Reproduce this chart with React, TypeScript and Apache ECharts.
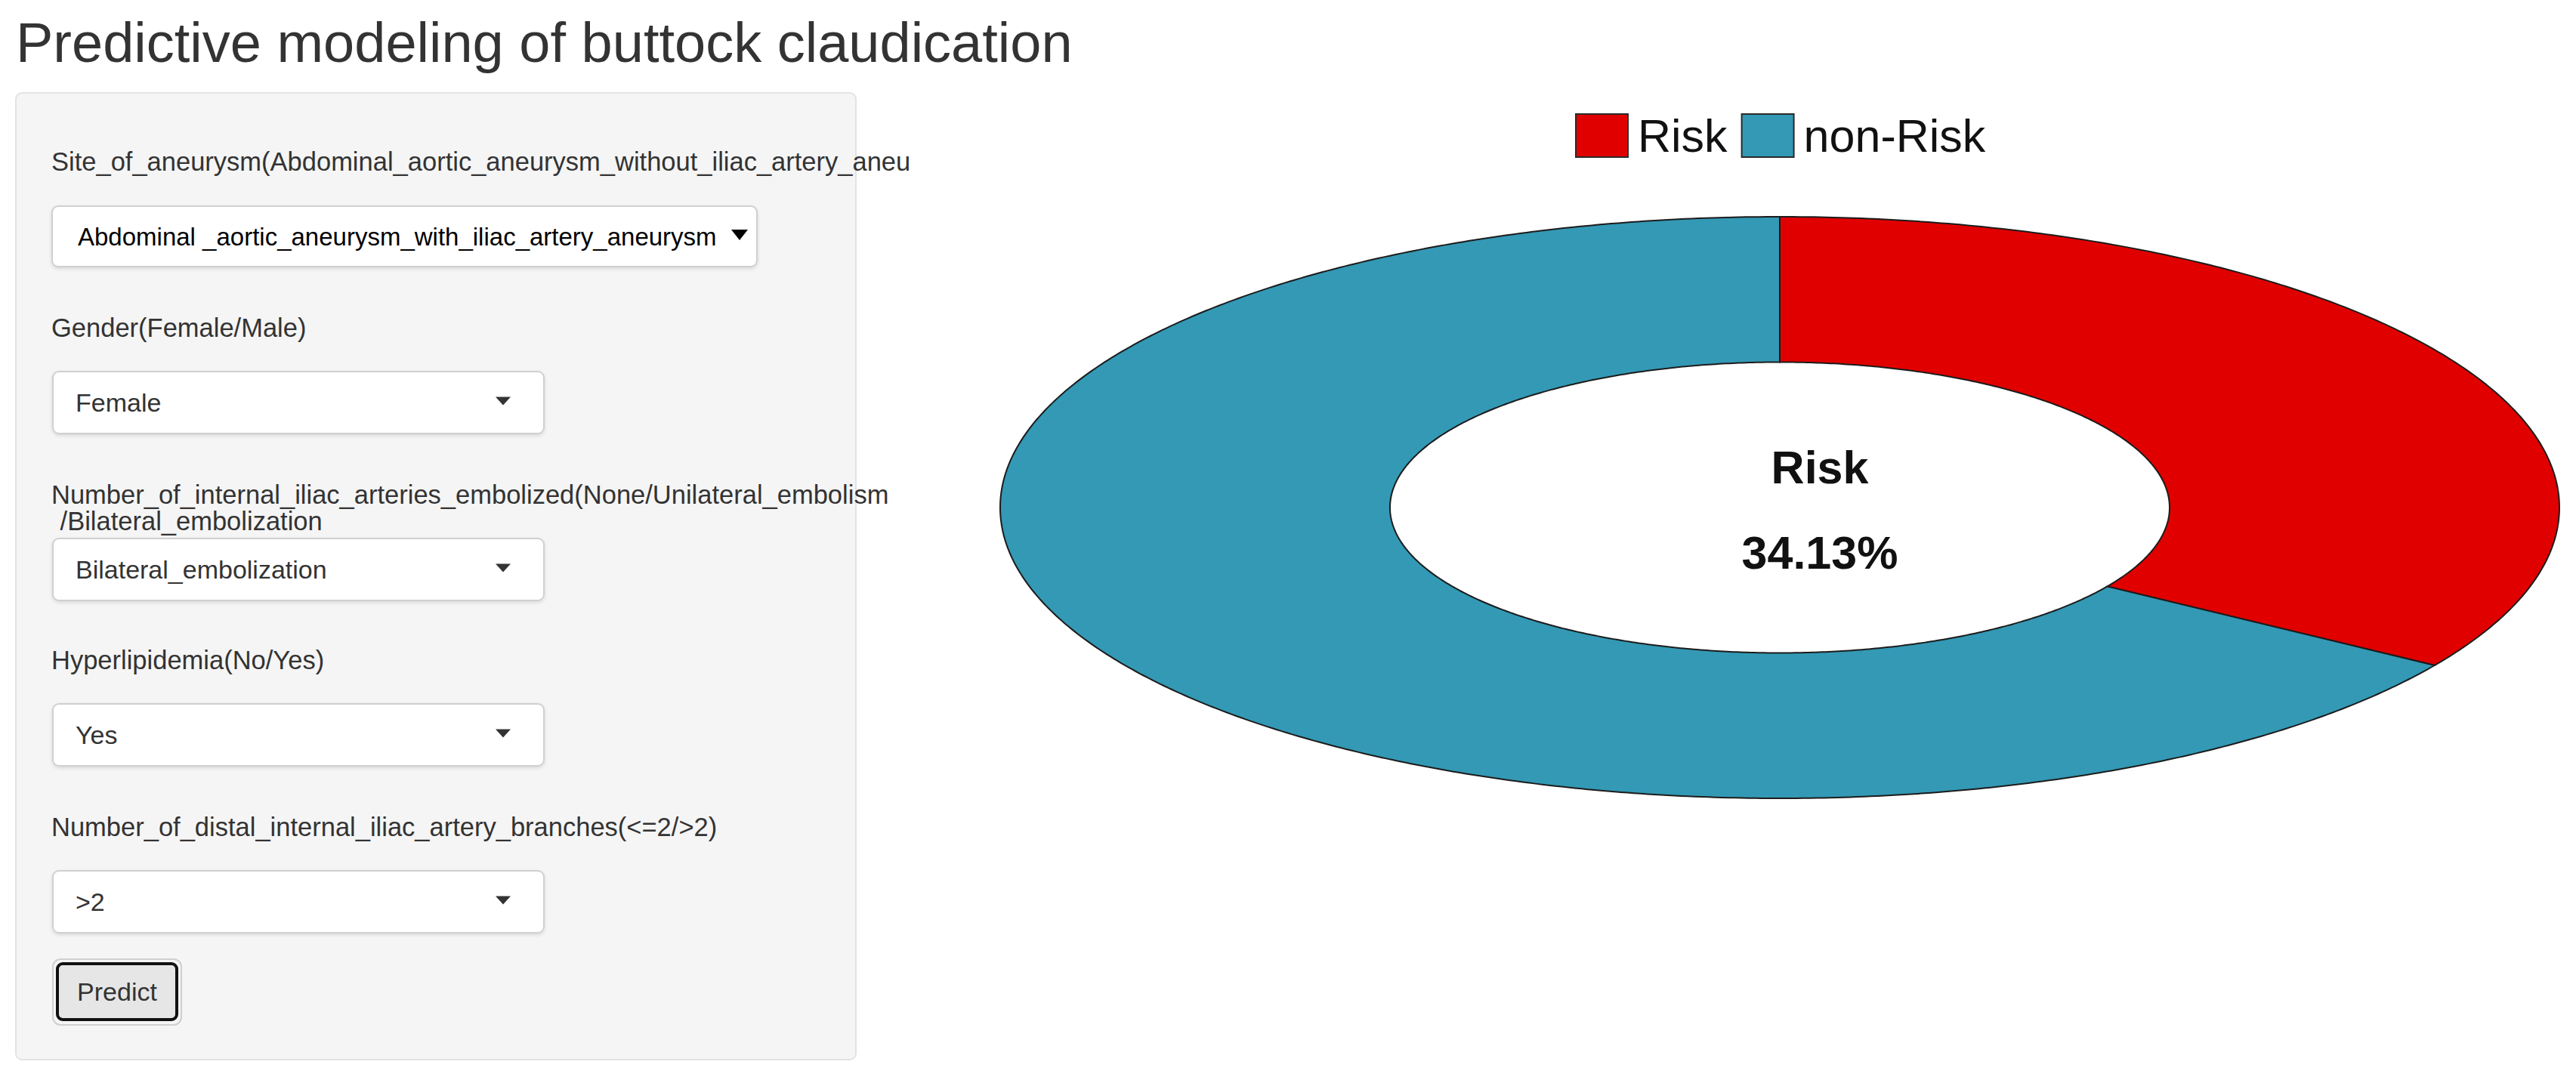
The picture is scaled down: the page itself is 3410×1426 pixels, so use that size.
import { useEffect, useRef } from 'react';
import * as echarts from 'echarts';

// prediction result
const categories = ['Risk', 'non-Risk'];
const values = [34.13, 65.87];
const sliceColors = ['#e10000', '#3399b5'];
const centerName = 'Risk';

// sidebar form
const pageTitle = 'Predictive modeling of buttock claudication';
const fieldLabels = [
  ['Site_of_aneurysm(Abdominal_aortic_aneurysm_without_iliac_artery_aneurysm/Abdominal _aortic_aneurysm_with_iliac_artery_aneurysm)'],
  ['Gender(Female/Male)'],
  ['Number_of_internal_iliac_arteries_embolized(None/Unilateral_embolism', ' /Bilateral_embolization'],
  ['Hyperlipidemia(No/Yes)'],
  ['Number_of_distal_internal_iliac_artery_branches(<=2/>2)'],
];
const fieldValues = [
  'Abdominal _aortic_aneurysm_with_iliac_artery_aneurysm',
  'Female',
  'Bilateral_embolization',
  'Yes',
  '>2',
];
const buttonText = 'Predict';

const FONT = '"Liberation Sans", Arial, Helvetica, sans-serif';

// donut geometry (ellipse)
const CX = 2356;
const CY = 672;
const RX = 1032;
const RY = 385;
const INNER = 0.5;

const LABEL_Y = [214, 434, 655, 874, 1095];
const SELECT_Y = [273, 492, 713, 932, 1153];

function buildForm() {
  const els: any[] = [];
  els.push({
    type: 'text',
    x: 21,
    y: 56,
    style: { text: pageTitle, font: `74px ${FONT}`, fill: '#333', verticalAlign: 'middle' },
  });
  els.push({
    type: 'rect',
    shape: { x: 21, y: 123, width: 1112, height: 1280, r: 8 },
    style: { fill: '#f5f5f5', stroke: '#e3e3e3', lineWidth: 2 },
  });

  fieldLabels.forEach((lines, i) => {
    lines.forEach((line, j) => {
      els.push({
        type: 'text',
        x: j === 0 ? 68 : 70,
        y: LABEL_Y[i] + j * 35,
        style: {
          text: line,
          font: `34.5px ${FONT}`,
          fill: '#333',
          verticalAlign: 'middle',
          width: 1140,
          overflow: 'truncate',
          ellipsis: '',
        },
      });
    });

    const top = SELECT_Y[i];
    const first = i === 0;
    const w = first ? 933 : 650;
    const h = first ? 80 : 82;
    const x = first ? 69 : 70;
    els.push({
      type: 'rect',
      shape: { x, y: top, width: w, height: h, r: 8 },
      style: {
        fill: '#fff',
        stroke: '#d0d0d0',
        lineWidth: 2,
        shadowBlur: 4,
        shadowOffsetY: 2,
        shadowColor: 'rgba(0,0,0,0.12)',
      },
    });
    els.push({
      type: 'text',
      x: first ? 103 : 100,
      y: top + h / 2,
      style: {
        text: fieldValues[i],
        font: `${first ? 33 : 34}px ${FONT}`,
        fill: first ? '#000' : '#333',
        verticalAlign: 'middle',
      },
    });
    const tx = first ? 979 : 666;
    const tw = first ? 22 : 20;
    const th = first ? 14 : 11;
    const ty = top + h / 2 - 2;
    els.push({
      type: 'polygon',
      shape: {
        points: [
          [tx - tw / 2, ty - th / 2],
          [tx + tw / 2, ty - th / 2],
          [tx, ty + th / 2],
        ],
      },
      style: { fill: first ? '#000' : '#333' },
    });
  });

  els.push({
    type: 'rect',
    shape: { x: 70, y: 1270, width: 170, height: 87, r: 10 },
    style: { fill: 'none', stroke: '#cfcfcf', lineWidth: 2 },
  });
  els.push({
    type: 'rect',
    shape: { x: 76, y: 1276, width: 158, height: 74, r: 7 },
    style: { fill: '#e6e6e6', stroke: '#111', lineWidth: 4 },
  });
  els.push({
    type: 'text',
    x: 155,
    y: 1313,
    style: { text: buttonText, font: `34px ${FONT}`, fill: '#333', align: 'center', verticalAlign: 'middle' },
  });

  // centre label of the donut
  const riskIdx = categories.indexOf(centerName);
  const total = values.reduce((a, b) => a + b, 0);
  els.push({
    type: 'text',
    x: 2409,
    y: 619,
    style: { text: centerName, font: `bold 61px ${FONT}`, fill: '#111', align: 'center', verticalAlign: 'middle' },
  });
  els.push({
    type: 'text',
    x: 2409,
    y: 732,
    style: {
      text: `${((values[riskIdx] / total) * 100).toFixed(2)}%`,
      font: `bold 61px ${FONT}`,
      fill: '#111',
      align: 'center',
      verticalAlign: 'middle',
    },
  });
  return els;
}

function renderSlice(params: any, api: any) {
  const idx = params.seriesIndex;
  const total = values.reduce((a, b) => a + b, 0);
  const before = values.slice(0, idx).reduce((a, b) => a + b, 0);
  const start = (before / total) * Math.PI * 2;
  const end = start + (api.value(0) / total) * Math.PI * 2;
  const n = Math.max(12, Math.ceil(((end - start) / (Math.PI * 2)) * 720));
  const pts: number[][] = [];
  for (let i = 0; i <= n; i++) {
    const t = start + ((end - start) * i) / n;
    pts.push([CX + RX * Math.sin(t), CY - RY * Math.cos(t)]);
  }
  for (let i = n; i >= 0; i--) {
    const t = start + ((end - start) * i) / n;
    pts.push([CX + RX * INNER * Math.sin(t), CY - RY * INNER * Math.cos(t)]);
  }
  return {
    type: 'polygon',
    shape: { points: pts },
    style: { fill: api.visual('color'), stroke: '#1c1c1c', lineWidth: 2 },
  };
}

export default function App() {
  const chartRef = useRef<HTMLDivElement>(null);

  useEffect(() => {
    if (!chartRef.current) return;
    const chart = echarts.init(chartRef.current, undefined, { renderer: 'svg' });
    chart.setOption({
      animation: false,
      backgroundColor: '#fff',
      legend: {
        data: categories,
        left: 2080,
        top: 144,
        icon: 'rect',
        itemWidth: 69,
        itemHeight: 57,
        itemGap: 18,
        selectedMode: false,
        itemStyle: { borderColor: '#2a2a2a', borderWidth: 2 },
        textStyle: { fontSize: 61, color: '#111', fontFamily: FONT, padding: [0, 0, 0, 8] },
      },
      graphic: buildForm(),
      series: categories.map((name, i) => ({
        name,
        type: 'custom',
        coordinateSystem: 'none',
        renderItem: renderSlice,
        itemStyle: { color: sliceColors[i] },
        data: [[values[i]]],
      })),
    });

    const handleResize = () => chart.resize();
    window.addEventListener('resize', handleResize);
    return () => {
      chart.dispose();
      window.removeEventListener('resize', handleResize);
    };
  }, []);

  return (
    <div
      ref={chartRef}
      style={{ position: 'fixed', left: 0, top: 0, width: '100vw', height: '100vh', background: '#fff' }}
    />
  );
}
